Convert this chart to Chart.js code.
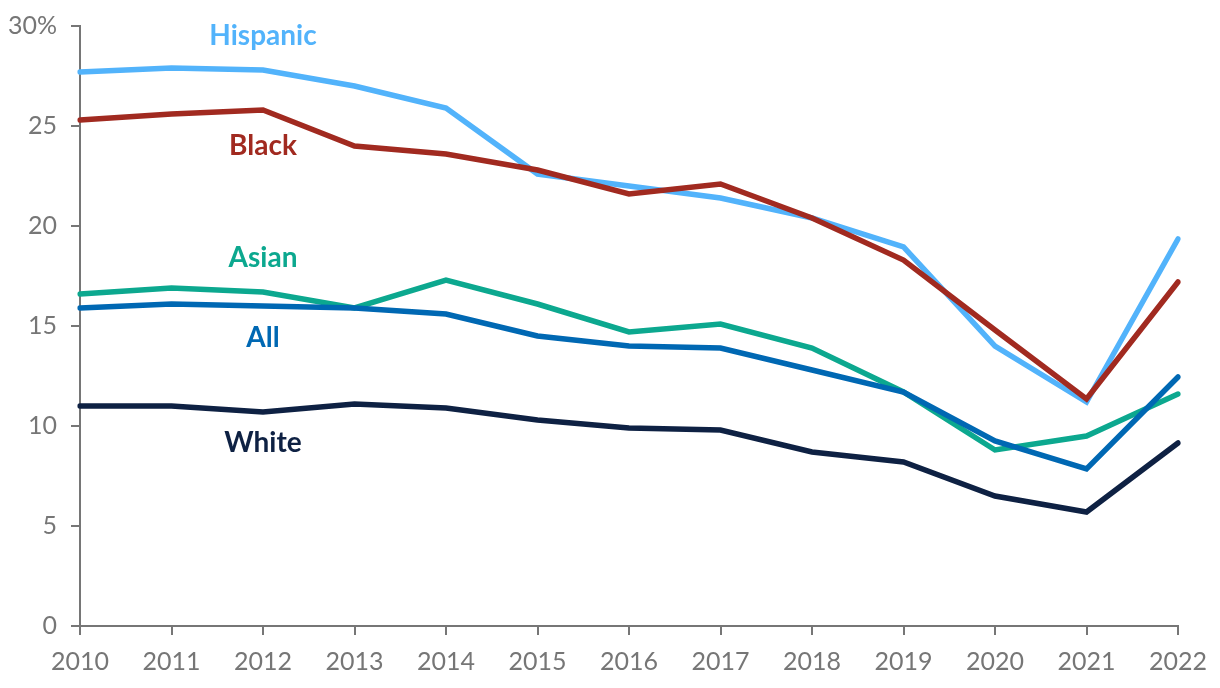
<!DOCTYPE html>
<html>
<head>
<meta charset="utf-8">
<script src="https://cdn.jsdelivr.net/npm/chart.js@4/dist/chart.umd.min.js"></script>
<style>
html,body{margin:0;padding:0;background:#fff;}
#wrap{width:1220px;height:688px;position:relative;}
</style>
</head>
<body>
<div id="wrap"><canvas id="c" width="1220" height="688"></canvas></div>
<script>
const years = ['2010','2011','2012','2013','2014','2015','2016','2017','2018','2019','2020','2021','2022'];
const hispanic = [27.7,27.9,27.8,27.0,25.9,22.6,22.0,21.4,20.4,18.95,14.0,11.2,19.35];
const black    = [25.3,25.6,25.8,24.0,23.6,22.8,21.6,22.1,20.4,18.3,14.8,11.35,17.2];
const asian    = [16.6,16.9,16.7,15.9,17.3,16.1,14.7,15.1,13.9,11.7,8.8,9.5,11.6];
const all      = [15.9,16.1,16.0,15.9,15.6,14.5,14.0,13.9,12.8,11.7,9.25,7.85,12.45];
const white    = [11.0,11.0,10.7,11.1,10.9,10.3,9.9,9.8,8.7,8.2,6.5,5.7,9.15];
const yTicks = [0,5,10,15,20,25,30];

// series labels: [text, category index, value]
const seriesLabels = [
  ['Hispanic', 2, 29.5],
  ['Black', 2, 24.0],
  ['Asian', 2, 18.4],
  ['All', 2, 14.4],
  ['White', 2, 9.15]
];

const colors = {
  Hispanic: '#52b3fb',
  Black: '#a12a20',
  Asian: '#0ca88f',
  All: '#0068b3',
  White: '#0e2143'
};
const axisGray = '#767676';

const labelPlugin = {
  id: 'seriesLabels',
  afterDatasetsDraw(chart) {
    const ctx = chart.ctx;
    const xs = chart.scales.x, ys = chart.scales.y;
    ctx.save();
    ctx.font = 'bold 28px Lato';
    ctx.textAlign = 'center';
    ctx.textBaseline = 'middle';
    seriesLabels.forEach(([t, xi, v]) => {
      ctx.fillStyle = colors[t];
      ctx.fillText(t, xs.getPixelForValue(xi), ys.getPixelForValue(v));
    });
    ctx.restore();
  }
};

function ds(label, data) {
  return {
    label, data,
    borderColor: colors[label],
    backgroundColor: colors[label],
    borderWidth: 5.5,
    pointRadius: 0,
    tension: 0,
    borderCapStyle: 'round',
    fill: false
  };
}

new Chart(document.getElementById('c'), {
  type: 'line',
  data: {
    labels: years,
    datasets: [
      ds('All', all),
      ds('Asian', asian),
      ds('Black', black),
      ds('Hispanic', hispanic),
      ds('White', white)
    ]
  },
  options: {
    responsive: false,
    animation: false,
    layout: { padding: { top: 26, right: 42, left: 0, bottom: 0 } },
    plugins: { legend: { display: false }, tooltip: { enabled: false } },
    scales: {
      x: {
        type: 'category',
        offset: false,
        border: { display: true, color: axisGray, width: 2 },
        grid: { drawOnChartArea: false, drawTicks: true, tickLength: 9, color: axisGray, lineWidth: 2 },
        ticks: { color: axisGray, font: { family: 'Lato', size: 25 }, padding: 12, maxRotation: 0, autoSkip: false },
        afterFit(s) { s.height = 62; s.paddingLeft = 0; s.paddingRight = 0; }
      },
      y: {
        min: 0, max: 30,
        afterBuildTicks(s) { s.ticks = yTicks.map(v => ({ value: v })); },
        border: { display: true, color: axisGray, width: 2 },
        grid: { drawOnChartArea: false, drawTicks: true, tickLength: 9, color: axisGray, lineWidth: 2 },
        ticks: {
          color: axisGray, font: { family: 'Lato', size: 25 }, padding: 14,
          callback: v => v === 30 ? '30%' : String(v)
        },
        afterFit(s) { s.width = 80; s.paddingTop = 0; s.paddingBottom = 0; }
      }
    }
  },
  plugins: [labelPlugin]
});
</script>
</body>
</html>
